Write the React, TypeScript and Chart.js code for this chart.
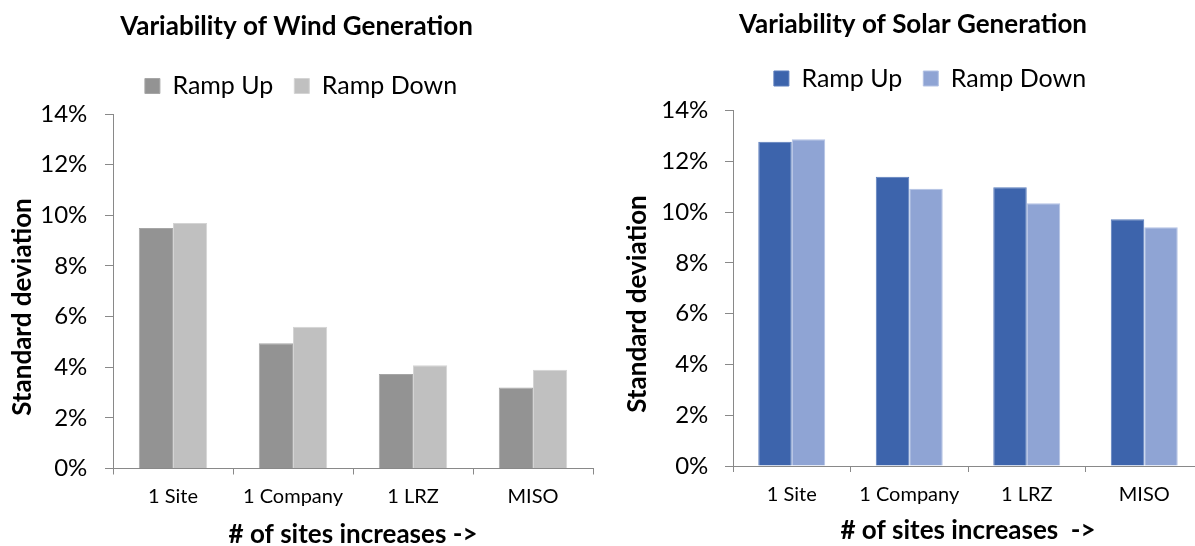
import React, { useEffect, useRef } from 'react';
import { Chart, registerables } from 'chart.js';

Chart.register(...registerables);

// ---- data ----
const categories = ['1 Site', '1 Company', '1 LRZ', 'MISO'];
const seriesNames = ['Ramp Up', 'Ramp Down'];
const windRampUp = [9.5, 4.95, 3.73, 3.2];
const windRampDown = [9.7, 5.6, 4.08, 3.9];
const solarRampUp = [12.77, 11.39, 10.98, 9.72];
const solarRampDown = [12.87, 10.92, 10.35, 9.4];
const yMin = 0;
const yMax = 14;
const yStep = 2;
const windTitle = 'Variability of Wind Generation';
const solarTitle = 'Variability of Solar Generation';
const yAxisTitle = 'Standard deviation';
const windXTitle = '# of sites increases ->';
const solarXTitle = '# of sites increases  ->';

const AXIS = '#898989';
const FONT = 'Lato';

type Spec = {
  left: number;
  width: number;
  height: number;
  title: string;
  xTitle: string;
  up: number[];
  down: number[];
  colors: [string, string];
  borders: [string, string];
  titlePadTop: number;
  titlePadBottom: number;
  spacer: number;
  yWidth: number;
  xHeight: number;
  padRight: number;
  yTitlePadTop: number;
  xTickPad: number;
  yTickPad: number;
  xTitlePadBottom: number;
  legendDx: number;
};

const shiftLegend = {
  id: 'shiftLegend',
  afterLayout(chart: any, _args: any, opts: any) {
    const lg = chart.legend;
    if (lg && opts && opts.dx) {
      lg.left += opts.dx;
      lg.right += opts.dx;
    }
  },
};

function Panel({ spec }: { spec: Spec }) {
  const ref = useRef<HTMLCanvasElement | null>(null);
  useEffect(() => {
    if (!ref.current) return;
    const chart = new Chart(ref.current, {
      type: 'bar',
      data: {
        labels: categories,
        datasets: [
          {
            label: seriesNames[0],
            data: spec.up,
            backgroundColor: spec.colors[0],
            borderColor: spec.borders[0],
            borderWidth: 1,
          },
          {
            label: seriesNames[1],
            data: spec.down,
            backgroundColor: spec.colors[1],
            borderColor: spec.borders[1],
            borderWidth: 1,
          },
        ],
      },
      plugins: [shiftLegend],
      options: {
        responsive: false,
        animation: false,
        devicePixelRatio: 1,
        font: { family: FONT },
        layout: { padding: { left: 0, right: spec.padRight, top: 0, bottom: 0 } },
        datasets: { bar: { categoryPercentage: 0.57, barPercentage: 1 } },
        plugins: {
          title: {
            display: true,
            text: spec.title,
            color: '#000',
            font: { family: FONT, size: 26, weight: 'bold', lineHeight: 1.2 },
            padding: { top: spec.titlePadTop, bottom: spec.titlePadBottom },
          },
          subtitle: {
            display: spec.spacer > 0,
            text: '',
            position: 'top',
            weight: 500,
            font: { family: FONT, size: 1, lineHeight: 1 },
            padding: { top: 0, bottom: Math.max(0, spec.spacer - 1) },
          },
          legend: {
            display: true,
            position: 'top',
            labels: {
              font: { family: FONT, size: 25 },
              color: '#000',
              boxWidth: 15,
              boxHeight: 15,
              padding: 21,
            },
          },
          tooltip: { enabled: false },
          shiftLegend: { dx: spec.legendDx },
        } as any,
        scales: {
          x: {
            grid: {
              display: true,
              drawOnChartArea: false,
              drawTicks: true,
              tickLength: 6,
              color: AXIS,
              offset: true,
            },
            border: { display: true, color: AXIS, width: 1 },
            ticks: {
              font: { family: FONT, size: 20 },
              color: '#000',
              padding: spec.xTickPad,
              maxRotation: 0,
              autoSkip: false,
            },
            title: {
              display: true,
              text: spec.xTitle,
              color: '#000',
              font: { family: FONT, size: 26, weight: 'bold', lineHeight: 1 },
              padding: { top: 0, bottom: spec.xTitlePadBottom },
            },
            afterFit: (s: any) => {
              s.height = spec.xHeight;
            },
          },
          y: {
            min: yMin,
            max: yMax,
            grid: {
              display: true,
              drawOnChartArea: false,
              drawTicks: true,
              tickLength: 8,
              color: AXIS,
            },
            border: { display: true, color: AXIS, width: 1 },
            ticks: {
              stepSize: yStep,
              font: { family: FONT, size: 24 },
              color: '#000',
              padding: spec.yTickPad,
              callback: (v: any) => `${v}%`,
            },
            title: {
              display: true,
              text: yAxisTitle + '     ',
              color: '#000',
              font: { family: FONT, size: 26, weight: 'bold', lineHeight: 1 },
              padding: { top: spec.yTitlePadTop, bottom: 0 },
            },
            afterFit: (s: any) => {
              s.width = spec.yWidth;
            },
          },
        },
      } as any,
    });
    return () => chart.destroy();
  }, [spec]);
  return (
    <canvas
      ref={ref}
      width={spec.width}
      height={spec.height}
      style={{
        position: 'absolute',
        left: spec.left,
        top: 0,
        width: spec.width,
        height: spec.height,
        display: 'block',
      }}
    />
  );
}

const windSpec: Spec = {
  left: 0,
  width: 594,
  height: 556,
  title: windTitle,
  xTitle: windXTitle,
  up: windRampUp,
  down: windRampDown,
  colors: ['#939393', '#c0c0c0'],
  borders: ['#a6a6a6', '#d4d4d4'],
  titlePadTop: 10.9,
  titlePadBottom: 10.4,
  spacer: 5.5,
  yWidth: 113,
  xHeight: 87.5,
  padRight: 1,
  yTitlePadTop: 10,
  xTickPad: 10.5,
  yTickPad: 17.7,
  xTitlePadBottom: 8,
  legendDx: 4.5,
};

const solarSpec: Spec = {
  left: 623,
  width: 588,
  height: 556,
  title: solarTitle,
  xTitle: solarXTitle,
  up: solarRampUp,
  down: solarRampDown,
  colors: ['#3d64ac', '#8fa4d4'],
  borders: ['#5a7cbc', '#b3c2e4'],
  titlePadTop: 8.9,
  titlePadBottom: 4.9,
  spacer: 9.5,
  yWidth: 110,
  xHeight: 90,
  padRight: 8,
  yTitlePadTop: 2,
  xTickPad: 11,
  yTickPad: 16.7,
  xTitlePadBottom: 12,
  legendDx: 17,
};

export default function App() {
  return (
    <div
      style={{
        position: 'absolute',
        left: 0,
        top: 0,
        width: 1195,
        height: 546,
        overflow: 'hidden',
        background: '#fff',
      }}
    >
      <Panel spec={windSpec} />
      <Panel spec={solarSpec} />
    </div>
  );
}
